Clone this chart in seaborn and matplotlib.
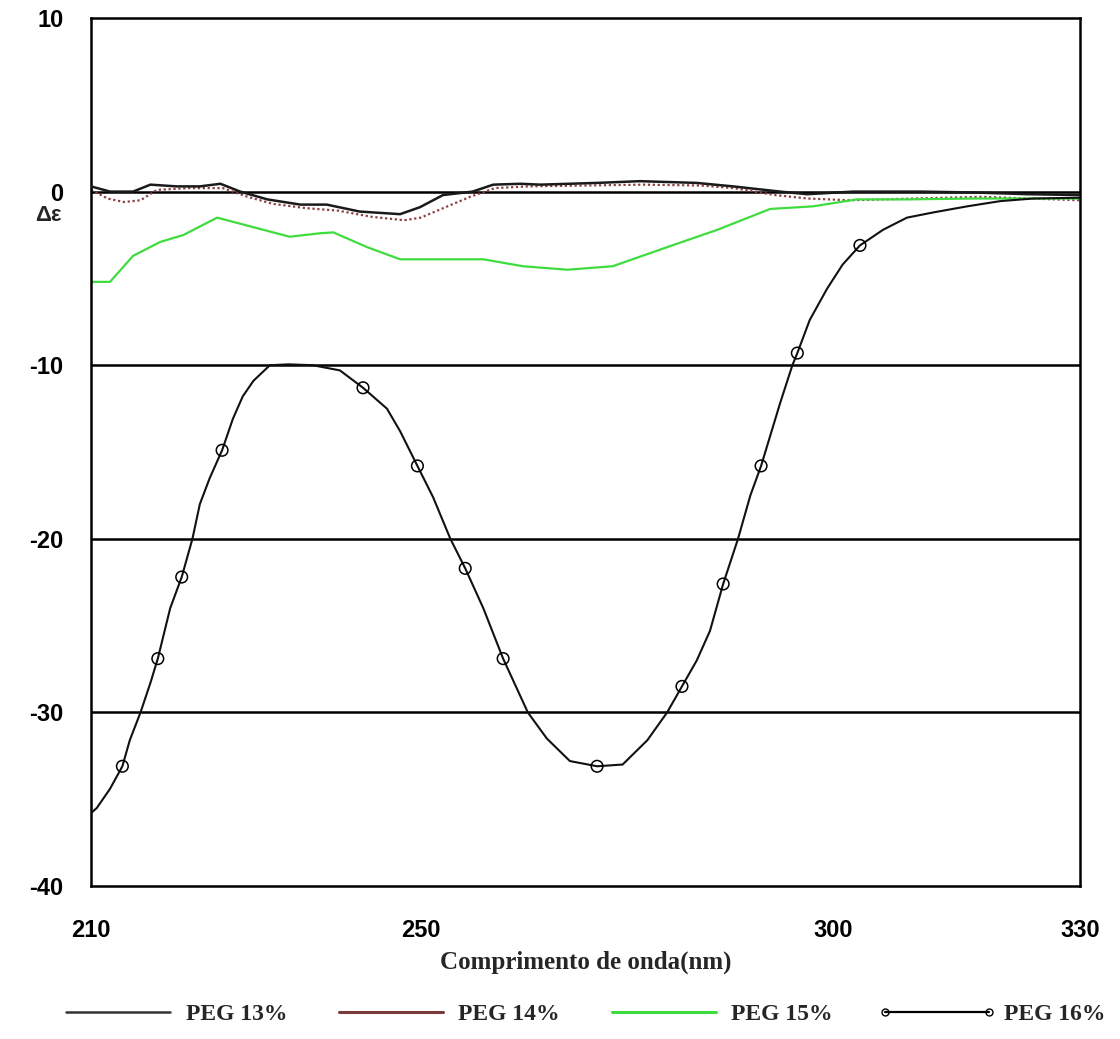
import matplotlib
matplotlib.use("Agg")
import matplotlib.pyplot as plt
from matplotlib.lines import Line2D
import seaborn as sns

# ---------------- data ----------------
peg13_x = [210.0, 212.3, 215.1, 217.2, 220.4, 223.2, 225.7, 228.1, 231.4, 235.4, 238.6,
           242.6, 247.5, 249.9, 252.7, 256.3, 258.8, 262.1, 264.5, 271.4, 276.6, 283.5,
           287.9, 293.6, 296.9, 302.5, 310.6, 317.0, 323.6, 330.0]
peg13_y = [0.3, 0.0, 0.0, 0.4, 0.3, 0.3, 0.45, 0.0, -0.45, -0.75, -0.75,
           -1.15, -1.3, -0.9, -0.2, 0.0, 0.4, 0.45, 0.4, 0.5, 0.6, 0.5,
           0.3, 0.0, -0.15, 0.0, 0.0, -0.05, -0.15, -0.2]

peg14_x = [210, 212, 214, 216, 218, 222, 226, 229, 232, 236, 240, 244, 248, 250, 253,
           256, 259, 263, 270, 277, 284, 288, 293, 297, 302, 310, 318, 324, 330]
peg14_y = [0.1, -0.4, -0.6, -0.5, 0.1, 0.2, 0.2, -0.3, -0.7, -0.95, -1.1, -1.45, -1.65, -1.5, -0.9,
           -0.3, 0.2, 0.3, 0.35, 0.4, 0.35, 0.2, -0.2, -0.4, -0.5, -0.4, -0.3, -0.4, -0.5]

peg15_x = [210.0, 212.3, 215.1, 218.4, 221.2, 225.3, 229.3, 234.1, 237.8, 239.4, 243.5,
           247.5, 253.6, 257.6, 262.4, 267.8, 273.3, 279.9, 286.0, 292.4, 297.6, 302.9,
           309.0, 317.0, 323.6, 330.0]
peg15_y = [-5.2, -5.2, -3.7, -2.9, -2.5, -1.5, -2.0, -2.6, -2.4, -2.35, -3.2,
           -3.9, -3.9, -3.9, -4.3, -4.5, -4.3, -3.2, -2.2, -1.0, -0.85, -0.45,
           -0.45, -0.4, -0.4, -0.4]

peg16_x = [210.0, 210.7, 212.3, 213.8, 214.7, 216.0, 217.2, 218.1, 219.6, 221.0, 222.3,
           223.2, 224.4, 225.9, 227.2, 228.4, 229.7, 231.7, 234.0, 236.9, 240.2, 243.0,
           245.9, 247.5, 249.6, 251.5, 253.6, 255.4, 257.6, 260.0, 263.0, 265.3, 268.1,
           271.4, 274.5, 277.5, 279.9, 281.7, 283.5, 285.1, 286.7, 288.5, 290.0, 291.3,
           293.6, 295.1, 295.7, 297.2, 299.3, 301.2, 303.3, 306.1, 309.0, 312.2, 316.3,
           320.3, 324.3, 330.0]
peg16_y = [-35.8, -35.5, -34.4, -33.1, -31.6, -30.0, -28.3, -26.9, -24.0, -22.2, -20.0,
           -18.0, -16.5, -14.9, -13.1, -11.8, -10.9, -10.0, -9.95, -10.0, -10.3, -11.3,
           -12.5, -13.8, -15.8, -17.6, -20.0, -21.7, -24.0, -26.9, -30.0, -31.5, -32.8,
           -33.1, -33.0, -31.6, -30.0, -28.5, -27.0, -25.3, -22.6, -20.0, -17.5, -15.8,
           -12.2, -10.0, -9.3, -7.4, -5.6, -4.2, -3.1, -2.2, -1.5, -1.2, -0.85,
           -0.55, -0.4, -0.35]
peg16_marker_x = [213.8, 218.1, 221.0, 225.9, 243.0, 249.6, 255.4, 260.0, 271.4,
                  281.7, 286.7, 291.3, 295.7, 303.3]
peg16_marker_y = [-33.1, -26.9, -22.2, -14.9, -11.3, -15.8, -21.7, -26.9, -33.1,
                  -28.5, -22.6, -15.8, -9.3, -3.1]

labels = ["PEG 13%", "PEG 14%", "PEG 15%", "PEG 16%"]
x_ticks = [210, 250, 300, 330]
y_ticks = [10, 0, -10, -20, -30, -40]
grid_levels = [0, -10, -20, -30]

# ---------------- plot ----------------
sns.set_theme(style="white")
plt.rcParams["font.family"] = ["Liberation Sans", "DejaVu Sans"]
plt.rcParams["axes.unicode_minus"] = False

fig = plt.figure(figsize=(11.2, 10.39), dpi=100)
ax = fig.add_axes([0.0813, 0.1472, 0.8830, 0.8355])

for g in grid_levels:
    ax.axhline(g, color="black", lw=1.8, zorder=1)

c13, c14, c15, c16 = "#1a1a1a", "#8b3f3f", "#3fdc3f", "#111111"

sns.lineplot(x=peg13_x, y=peg13_y, ax=ax, color=c13, lw=1.8, zorder=3)
sns.lineplot(x=peg14_x, y=peg14_y, ax=ax, color=c14, lw=1.6, ls=(0, (1, 1.2)), zorder=2)
sns.lineplot(x=peg15_x, y=peg15_y, ax=ax, color=c15, lw=1.6, zorder=2)
sns.lineplot(x=peg16_x, y=peg16_y, ax=ax, color=c16, lw=1.5, zorder=4)
sns.scatterplot(x=peg16_marker_x, y=peg16_marker_y, ax=ax, marker="o", s=70,
                facecolor="none", edgecolor="black", linewidth=1.1, zorder=5)

ax.set_xlim(210, 330)
ax.set_ylim(-40, 10)
ax.set_xticks(x_ticks)
ax.set_yticks(y_ticks)
ax.set_xticks([225, 275], minor=True)
ax.set_yticks([5, -5, -15, -25, -35], minor=True)
ax.tick_params(axis="both", which="major", length=0, labelsize=17, colors="black")
ax.tick_params(axis="x", which="major", pad=24)
ax.tick_params(axis="y", which="major", pad=20)
ax.tick_params(axis="both", which="minor", length=5, width=1.5, direction="in", color="black")
for lab in ax.get_xticklabels() + ax.get_yticklabels():
    lab.set_fontweight("bold")

for sp in ax.spines.values():
    sp.set_visible(True)
    sp.set_color("black")
    sp.set_linewidth(1.8)

ax.set_xlabel("Comprimento de onda(nm)", fontsize=18, fontweight="bold",
              family=["Liberation Serif", "DejaVu Serif"], labelpad=6)
ax.set_ylabel("")
fig.text(0.043, 0.793, "Δε", fontsize=16, fontweight="bold", ha="center", va="center")

handles = [
    Line2D([], [], color="#333333", lw=1.8),
    Line2D([], [], color="#7a3a3a", lw=2.2),
    Line2D([], [], color=c15, lw=2.2),
    Line2D([], [], color="black", lw=1.6, marker="o", markersize=5,
           markerfacecolor="none", markeredgecolor="black"),
]
leg = fig.legend(handles, labels, loc="lower center", bbox_to_anchor=(0.52, -0.007), ncol=4,
                 frameon=False, handlelength=5.0, handletextpad=0.35, columnspacing=1.9,
                 numpoints=2, prop={"family": ["Liberation Serif", "DejaVu Serif"],
                                    "weight": "bold", "size": 17})

fig.savefig("out.png", dpi=100, facecolor="white")
